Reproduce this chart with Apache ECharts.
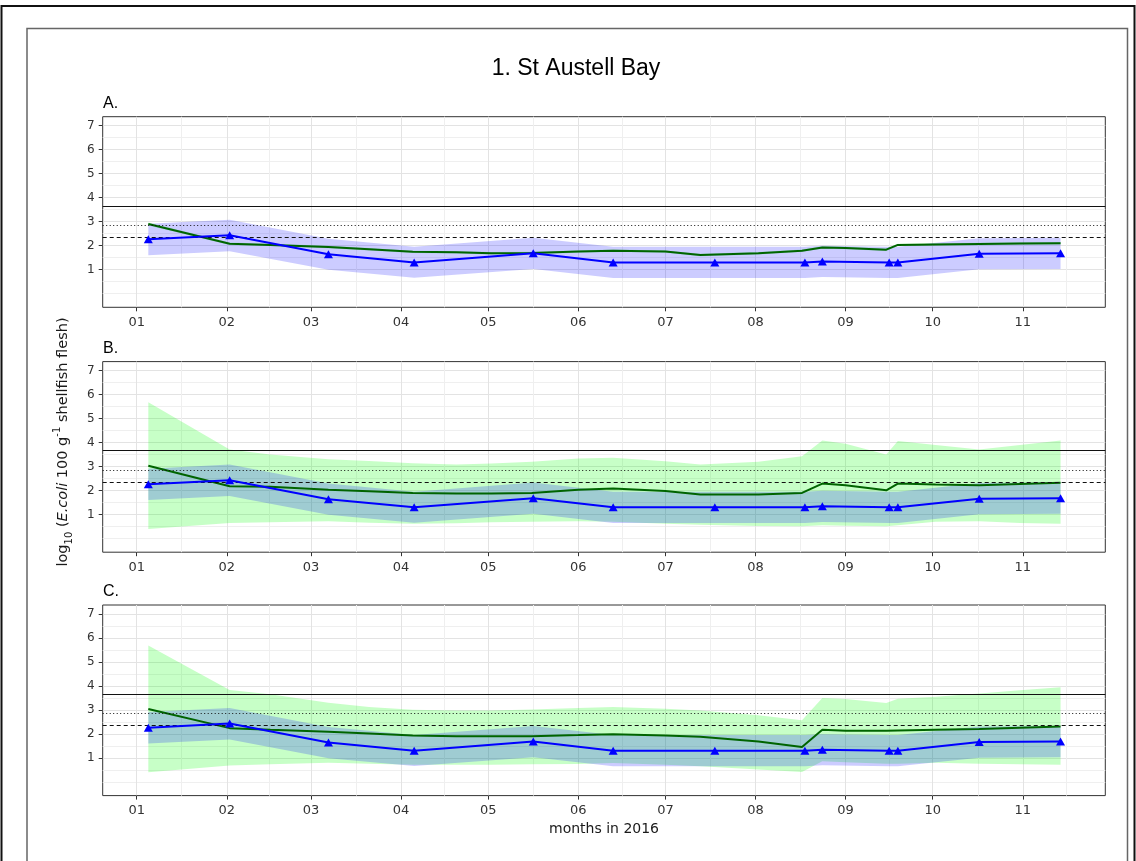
<!DOCTYPE html>
<html>
<head>
<meta charset="utf-8">
<script src="https://cdn.jsdelivr.net/npm/echarts@6/dist/echarts.min.js"></script>
<style>html,body{margin:0;padding:0;background:#fff}#c{width:1136px;height:861px}</style>
</head>
<body>
<div id="c"></div>
<script>
// ---------- axis ticks ----------
const monthTickDays = [0, 31, 60, 91, 121, 152, 182, 213, 244, 274, 305];
const monthTickLabels = ['01', '02', '03', '04', '05', '06', '07', '08', '09', '10', '11'];
const minorTickDays = [15.5, 45.5, 75.5, 106, 136.5, 167, 197.5, 228.5, 259, 289.5, 320];
const yTickValues = [1, 2, 3, 4, 5, 6, 7];
const yMinorValues = [0, 0.5, 1.5, 2.5, 3.5, 4.5, 5.5, 6.5];
// reference levels (log10 of 4600, 700, 230)
const refLevels = [3.663, 2.845, 2.362];
const panelLabels = ['A.', 'B.', 'C.'];

// ---------- observations (days since 1 Jan 2016) ----------
const obsDays = [4, 32, 66, 95.5, 136.5, 164, 199, 230, 236, 259, 262, 290, 318];
const obsLog = [2.26, 2.43, 1.64, 1.30, 1.68, 1.30, 1.30, 1.30, 1.34, 1.30, 1.30, 1.66, 1.68];
const obsBandLower = [1.60, 1.77, 0.99, 0.66, 1.03, 0.65, 0.65, 0.65, 0.69, 0.65, 0.65, 1.01, 1.03];
const obsBandUpper = [2.91, 3.08, 2.29, 1.95, 2.33, 1.95, 1.95, 1.95, 1.99, 1.95, 1.95, 2.31, 2.33];

// ---------- model predictions ----------
const modelDays = [4, 32, 46, 66, 80, 95, 110, 122, 136, 152, 164, 182, 194, 214, 229, 236, 244, 258, 262, 275, 290, 304, 318];

const modelA      = [2.90, 2.08, 2.03, 1.94, 1.85, 1.74, 1.72, 1.68, 1.69, 1.75, 1.79, 1.75, 1.61, 1.68, 1.79, 1.92, 1.90, 1.83, 2.03, 2.05, 2.07, 2.09, 2.10];
const modelALower = [2.84, 2.03, 1.98, 1.89, 1.80, 1.69, 1.67, 1.63, 1.64, 1.70, 1.74, 1.70, 1.56, 1.63, 1.74, 1.87, 1.85, 1.78, 1.98, 2.00, 2.02, 2.04, 2.05];
const modelAUpper = [2.96, 2.13, 2.08, 1.99, 1.90, 1.79, 1.77, 1.73, 1.74, 1.80, 1.84, 1.80, 1.66, 1.73, 1.84, 1.97, 1.95, 1.88, 2.08, 2.10, 2.12, 2.14, 2.15];

const modelB      = [3.03, 2.18, 2.16, 2.03, 1.97, 1.90, 1.88, 1.88, 1.90, 2.03, 2.08, 1.98, 1.83, 1.83, 1.90, 2.29, 2.22, 2.01, 2.29, 2.25, 2.22, 2.27, 2.32];
const modelBLower = [0.40, 0.65, 0.68, 0.72, 0.66, 0.62, 0.64, 0.68, 0.70, 0.72, 0.70, 0.62, 0.57, 0.52, 0.51, 0.55, 0.53, 0.51, 0.55, 0.70, 0.72, 0.65, 0.61];
const modelBUpper = [5.68, 3.71, 3.50, 3.30, 3.23, 3.14, 3.08, 3.12, 3.20, 3.33, 3.36, 3.22, 3.08, 3.20, 3.43, 4.08, 3.95, 3.50, 4.06, 3.90, 3.71, 3.90, 4.08];

const modelC      = [3.04, 2.24, 2.17, 2.09, 2.02, 1.93, 1.90, 1.90, 1.90, 1.95, 1.99, 1.93, 1.88, 1.68, 1.45, 2.17, 2.13, 2.13, 2.14, 2.17, 2.20, 2.26, 2.31];
const modelCLower = [0.40, 0.68, 0.74, 0.80, 0.76, 0.72, 0.72, 0.72, 0.74, 0.75, 0.79, 0.72, 0.65, 0.52, 0.41, 0.86, 0.82, 0.76, 0.76, 0.80, 0.76, 0.74, 0.72];
const modelCUpper = [5.68, 3.83, 3.65, 3.30, 3.12, 3.01, 2.98, 2.97, 3.02, 3.08, 3.12, 3.05, 2.98, 2.78, 2.57, 3.50, 3.45, 3.29, 3.46, 3.55, 3.68, 3.82, 3.94];

// ---------- layout ----------
const GRID_LEFT = 102.7, GRID_W = 1002.6, GRID_H = 190.6;
const gridTops = [116.7, 361.6, 605];
const X_MIN = -11.7, X_MAX = 333.4, Y_MIN = -0.57, Y_MAX = 7.37;

const panels = [
  { model: modelA, lower: modelALower, upper: modelAUpper },
  { model: modelB, lower: modelBLower, upper: modelBUpper },
  { model: modelC, lower: modelCLower, upper: modelCUpper }
];

function pairs(xs, ys) { return xs.map((x, i) => [x, ys[i]]); }
function triples(xs, lo, hi) { return xs.map((x, i) => [x, lo[i], hi[i]]); }
function monthLabel(v) {
  for (let i = 0; i < monthTickDays.length; i++) {
    if (Math.abs(monthTickDays[i] - v) < 0.01) return monthTickLabels[i];
  }
  return '';
}
// ribbon drawn as one polygon through the library's coordinate mapping
function ribbonRenderer(fill) {
  return function (params, api) {
    if (params.dataIndexInside !== 0) return null;
    const n = params.dataInsideLength;
    const top = [], bottom = [];
    for (let j = 0; j < n; j++) {
      top.push(api.coord([api.value(0, j), api.value(2, j)]));
      bottom.push(api.coord([api.value(0, j), api.value(1, j)]));
    }
    return {
      type: 'polygon',
      shape: { points: top.concat(bottom.reverse()) },
      style: { fill: fill, stroke: null }
    };
  };
}

const chart = echarts.init(document.getElementById('c'), null, { renderer: 'canvas', width: 1136, height: 861 });

const option = {
  animation: false,
  backgroundColor: '#ffffff',
  grid: [], xAxis: [], yAxis: [], series: [], graphic: []
};

const gridMajor = '#e3e3e3';
const gridMinor = '#efefef';

panels.forEach((p, i) => {
  option.grid.push({
    left: GRID_LEFT, top: gridTops[i], width: GRID_W, height: GRID_H,
    show: true, borderColor: '#333333', borderWidth: 1, backgroundColor: 'transparent',
    containLabel: false, outerBoundsMode: 'none'
  });
  option.xAxis.push({
    type: 'value', gridIndex: i, min: X_MIN, max: X_MAX, position: 'bottom',
    axisLine: { show: false, onZero: false },
    axisTick: { show: true, customValues: monthTickDays, length: 4, lineStyle: { color: '#333333' } },
    axisLabel: { customValues: monthTickDays, formatter: monthLabel, color: '#333333', fontSize: 13,
      fontFamily: 'DejaVu Sans', margin: 9 },
    splitLine: { show: true, lineStyle: { color: gridMajor, width: 1 } }
  });
  option.xAxis.push({
    type: 'value', gridIndex: i, min: X_MIN, max: X_MAX, position: 'bottom',
    axisLine: { show: false, onZero: false },
    axisTick: { show: false, customValues: minorTickDays },
    axisLabel: { show: false, customValues: minorTickDays },
    splitLine: { show: true, lineStyle: { color: gridMinor, width: 1 } }
  });
  option.yAxis.push({
    type: 'value', gridIndex: i, min: Y_MIN, max: Y_MAX, position: 'left',
    axisLine: { show: false, onZero: false },
    axisTick: { show: true, customValues: yTickValues, length: 4, lineStyle: { color: '#333333' } },
    axisLabel: { customValues: yTickValues, color: '#333333', fontSize: 12,
      fontFamily: 'DejaVu Sans', margin: 8 },
    splitLine: { show: true, lineStyle: { color: gridMajor, width: 1 } }
  });
  option.yAxis.push({
    type: 'value', gridIndex: i, min: Y_MIN, max: Y_MAX, position: 'left',
    axisLine: { show: false, onZero: false },
    axisTick: { show: false, customValues: yMinorValues },
    axisLabel: { show: false, customValues: yMinorValues },
    splitLine: { show: true, lineStyle: { color: gridMinor, width: 1 } }
  });

  const xi = 2 * i, yi = 2 * i;
  const base = { xAxisIndex: xi, yAxisIndex: yi, silent: true };

  // green model ribbon
  option.series.push(Object.assign({}, base, {
    type: 'custom', name: 'gBand' + i, coordinateSystem: 'cartesian2d',
    data: triples(modelDays, p.lower, p.upper), encode: { x: 0, y: [1, 2] },
    renderItem: ribbonRenderer('rgba(0,255,0,0.22)'), z: 1, clip: true
  }));
  // blue observation ribbon
  option.series.push(Object.assign({}, base, {
    type: 'custom', name: 'bBand' + i, coordinateSystem: 'cartesian2d',
    data: triples(obsDays, obsBandLower, obsBandUpper), encode: { x: 0, y: [1, 2] },
    renderItem: ribbonRenderer('rgba(0,0,255,0.2)'), z: 2, clip: true
  }));
  // reference lines
  option.series.push(Object.assign({}, base, {
    type: 'line', name: 'ref' + i, data: [], z: 3, symbol: 'none',
    markLine: {
      silent: true, symbol: ['none', 'none'], label: { show: false }, animation: false,
      data: [
        { yAxis: refLevels[0], lineStyle: { color: '#111111', width: 1.2, type: 'solid' } },
        { yAxis: refLevels[1], lineStyle: { color: '#111111', width: 1.2, type: [1, 2.5] } },
        { yAxis: refLevels[2], lineStyle: { color: '#111111', width: 1.2, type: [4, 3] } }
      ]
    }
  }));
  // green model line
  option.series.push(Object.assign({}, base, {
    type: 'line', name: 'model' + i, data: pairs(modelDays, p.model), z: 4, symbol: 'none',
    lineStyle: { color: '#006400', width: 2 }
  }));
  // blue observation line with triangles
  option.series.push(Object.assign({}, base, {
    type: 'line', name: 'obs' + i, data: pairs(obsDays, obsLog), z: 5,
    symbol: 'triangle', symbolSize: [9, 8], showSymbol: true, showAllSymbol: true,
    itemStyle: { color: '#0000ff' },
    lineStyle: { color: '#0000ff', width: 2 }
  }));

  option.graphic.push({
    type: 'text', x: 103, y: gridTops[i] - 5, z: 10, silent: true,
    style: { text: panelLabels[i], fill: '#000000', fontSize: 16, fontFamily: 'Liberation Sans',
      align: 'left', verticalAlign: 'bottom' }
  });
});

// frames
option.graphic.push({
  type: 'rect', z: 0, silent: true,
  shape: { x: 1.5, y: 6, width: 1133, height: 900 },
  style: { fill: 'none', stroke: '#111111', lineWidth: 2 }
});
option.graphic.push({
  type: 'rect', z: 0, silent: true,
  shape: { x: 27, y: 28.5, width: 1100.5, height: 900 },
  style: { fill: 'none', stroke: '#666666', lineWidth: 1.5 }
});
// title
option.graphic.push({
  type: 'text', x: 576, y: 69, z: 10, silent: true,
  style: { text: '1. St Austell Bay', fill: '#000000', fontSize: 23, fontFamily: 'Liberation Sans',
    align: 'center', verticalAlign: 'middle' }
});
// x axis title
option.graphic.push({
  type: 'text', x: 604, y: 829, z: 10, silent: true,
  style: { text: 'months in 2016', fill: '#1a1a1a', fontSize: 14, fontFamily: 'DejaVu Sans',
    align: 'center', verticalAlign: 'middle' }
});
// y axis title (rich text, rotated)
option.graphic.push({
  type: 'text', x: 63, y: 442, rotation: Math.PI / 2, z: 10, silent: true,
  style: {
    text: '{n|log}{sub|10}{n| (}{it|E.coli}{n| 100 g}{sup|-1}{n| shellfish flesh)}',
    fill: '#1a1a1a', align: 'center', verticalAlign: 'middle',
    rich: {
      n:   { fontSize: 14.5, fontFamily: 'DejaVu Sans', fill: '#1a1a1a', lineHeight: 22 },
      it:  { fontSize: 14.5, fontFamily: 'DejaVu Sans', fontStyle: 'italic', fill: '#1a1a1a', lineHeight: 22 },
      sub: { fontSize: 10, fontFamily: 'DejaVu Sans', fill: '#1a1a1a', lineHeight: 11, verticalAlign: 'bottom' },
      sup: { fontSize: 10, fontFamily: 'DejaVu Sans', fill: '#1a1a1a', lineHeight: 11, verticalAlign: 'top' }
    }
  }
});

chart.setOption(option);
</script>
</body>
</html>
